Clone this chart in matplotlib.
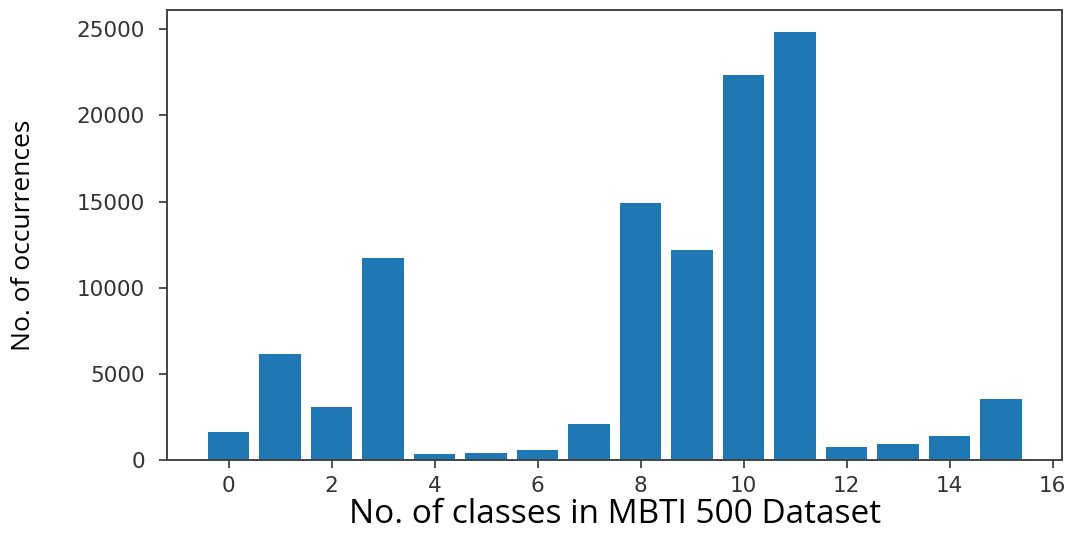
import matplotlib.pyplot as plt

plt.rcParams["font.family"] = "DejaVu Sans"

# Class counts for MBTI 500 dataset
classes = list(range(16))
counts = [1610, 6160, 3060, 11700, 310, 420, 540, 2090,
          14920, 12170, 22350, 24870, 770, 890, 1360, 3530]

fig = plt.figure(figsize=(10.72, 5.34), dpi=100)
ax = fig.add_axes([0.156, 0.139, 0.835, 0.842])

ax.bar(classes, counts, width=0.8, color="#1f77b4")

ax.set_xticks(range(0, 17, 2))
ax.set_yticks(range(0, 25001, 5000))
ax.tick_params(axis="both", labelsize=15.5, labelcolor="#333333",
               length=6, width=1.2, color="#333333")
ax.tick_params(axis="y", pad=10)
ax.tick_params(axis="x", pad=6)
for s in ax.spines.values():
    s.set_color("#444444")
    s.set_linewidth(1.4)

ax.set_xlabel("No. of classes in MBTI 500 Dataset", fontsize=24,
              family="Open Sans", labelpad=1)
ax.set_ylabel("No. of occurrences", fontsize=19, family="Open Sans",
              labelpad=29)

fig.savefig("out.png", dpi=100)
